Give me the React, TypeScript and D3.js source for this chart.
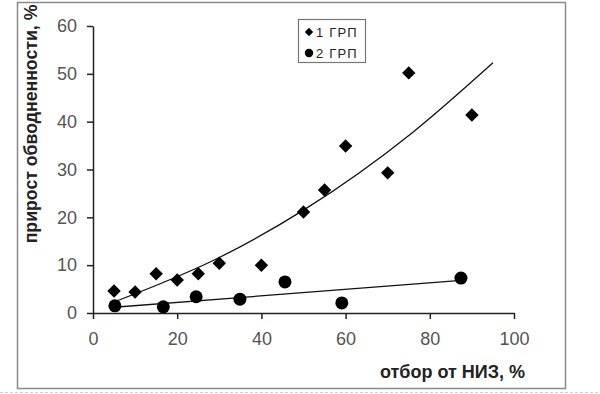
import { useEffect, useRef } from "react"
import * as d3 from "d3"

// 1 ГРП (diamonds)
const grp1X = [5, 10, 15, 20, 25, 30, 40, 50, 55, 60, 70, 75, 90]
const grp1Y = [4.6, 4.4, 8.2, 6.9, 8.2, 10.4, 10.0, 21.1, 25.7, 34.9, 29.3, 50.2, 41.4]

// 2 ГРП (circles)
const grp2X = [5.2, 16.7, 24.5, 34.9, 45.6, 59.1, 87.4]
const grp2Y = [1.5, 1.3, 3.4, 2.9, 6.5, 2.1, 7.3]

// trend lines
const trend1X = [5, 30, 50, 76, 95]
const trend1Y = [2.3, 11.6, 21.5, 37.8, 52.3]
const trend2X = [5, 87.5]
const trend2Y = [1.2, 6.8]

const xTicks = [0, 20, 40, 60, 80, 100]
const yTicks = [0, 10, 20, 30, 40, 50, 60]
const legendLabels = ["1 ГРП", "2 ГРП"]

const xTitle = "отбор от НИЗ, %"
const yTitle = "прирост обводненности, %"

export default function App() {
  const svgRef = useRef<SVGSVGElement>(null)

  useEffect(() => {
    if (!svgRef.current) return
    const svg = d3.select(svgRef.current)
    svg.selectAll("*").remove()

    const font = "'Liberation Sans', Arial, sans-serif"

    const x = d3.scaleLinear().domain([0, 100]).range([93, 514])
    const y = d3.scaleLinear().domain([0, 60]).range([313, 26])

    // frame
    svg
      .append("rect")
      .attr("x", 17.5)
      .attr("y", 2.5)
      .attr("width", 548)
      .attr("height", 386)
      .attr("fill", "white")
      .attr("stroke", "#8a8a8a")
      .attr("stroke-width", 1.5)

    svg
      .append("line")
      .attr("x1", 0)
      .attr("x2", 600)
      .attr("y1", 392.5)
      .attr("y2", 392.5)
      .attr("stroke", "#cfcfcf")
      .attr("stroke-dasharray", "3,2")

    // axes
    const xAxis = svg
      .append("g")
      .attr("transform", `translate(0,${y(0)})`)
      .call(d3.axisBottom(x).tickValues(xTicks).tickSize(6).tickSizeOuter(0).tickPadding(13))
    xAxis.select(".domain").attr("stroke", "#222").attr("stroke-width", 1.5)
    xAxis.selectAll(".tick line").attr("stroke", "#222").attr("stroke-width", 1.5)
    xAxis
      .selectAll("text")
      .attr("font-family", font)
      .attr("font-size", 18)
      .attr("fill", "#555")

    const yAxis = svg
      .append("g")
      .attr("transform", `translate(${x(0)},0)`)
      .call(d3.axisLeft(y).tickValues(yTicks).tickSize(6).tickSizeOuter(0).tickPadding(10))
    yAxis.select(".domain").attr("stroke", "#222").attr("stroke-width", 1.5)
    yAxis.selectAll(".tick line").attr("stroke", "#222").attr("stroke-width", 1.5)
    yAxis
      .selectAll("text")
      .attr("font-family", font)
      .attr("font-size", 18)
      .attr("fill", "#555")

    // titles
    svg
      .append("text")
      .attr("x", 525)
      .attr("y", 378)
      .attr("text-anchor", "end")
      .attr("font-family", font)
      .attr("font-size", 18)
      .attr("font-weight", "bold")
      .attr("fill", "#222")
      .text(xTitle)

    svg
      .append("text")
      .attr("transform", `translate(37,124) rotate(-90)`)
      .attr("text-anchor", "middle")
      .attr("font-family", font)
      .attr("font-size", 17.7)
      .attr("font-weight", "bold")
      .attr("fill", "#222")
      .text(yTitle)

    // trend lines
    const line = d3
      .line<[number, number]>()
      .x((d) => x(d[0]))
      .y((d) => y(d[1]))
      .curve(d3.curveMonotoneX)

    const t1 = trend1X.map((v, i) => [v, trend1Y[i]] as [number, number])
    const t2 = trend2X.map((v, i) => [v, trend2Y[i]] as [number, number])
    ;[t1, t2].forEach((t) => {
      svg
        .append("path")
        .datum(t)
        .attr("fill", "none")
        .attr("stroke", "#111")
        .attr("stroke-width", 1.3)
        .attr("d", line)
    })

    // points
    const diamond = d3.symbol().type(d3.symbolDiamond2).size(115)
    svg
      .append("g")
      .selectAll("path")
      .data(grp1X.map((v, i) => [v, grp1Y[i]]))
      .join("path")
      .attr("transform", (d) => `translate(${x(d[0])},${y(d[1])})`)
      .attr("d", diamond)
      .attr("fill", "#000")

    svg
      .append("g")
      .selectAll("circle")
      .data(grp2X.map((v, i) => [v, grp2Y[i]]))
      .join("circle")
      .attr("cx", (d) => x(d[0]))
      .attr("cy", (d) => y(d[1]))
      .attr("r", 6.5)
      .attr("fill", "#000")

    // legend
    const lg = svg.append("g")
    lg.append("rect")
      .attr("x", 298.5)
      .attr("y", 19.5)
      .attr("width", 67)
      .attr("height", 43)
      .attr("fill", "white")
      .attr("stroke", "#777")
      .attr("stroke-width", 1.2)

    legendLabels.forEach((label, i) => {
      const cy = 32 + i * 21
      if (i === 0) {
        lg.append("path")
          .attr("transform", `translate(309,${cy})`)
          .attr("d", d3.symbol().type(d3.symbolDiamond2).size(45)())
          .attr("fill", "#000")
      } else {
        lg.append("circle").attr("cx", 309).attr("cy", cy).attr("r", 4.2).attr("fill", "#000")
      }
      lg.append("text")
        .attr("x", 316)
        .attr("y", cy)
        .attr("dy", "0.35em")
        .attr("font-family", font)
        .attr("font-size", 13)
        .attr("letter-spacing", 1.2)
        .attr("fill", "#222")
        .text(label)
    })
  }, [])

  return (
    <svg
      ref={svgRef}
      width={600}
      height={394}
      style={{ position: "absolute", left: 0, top: 0, background: "white" }}
    />
  )
}
